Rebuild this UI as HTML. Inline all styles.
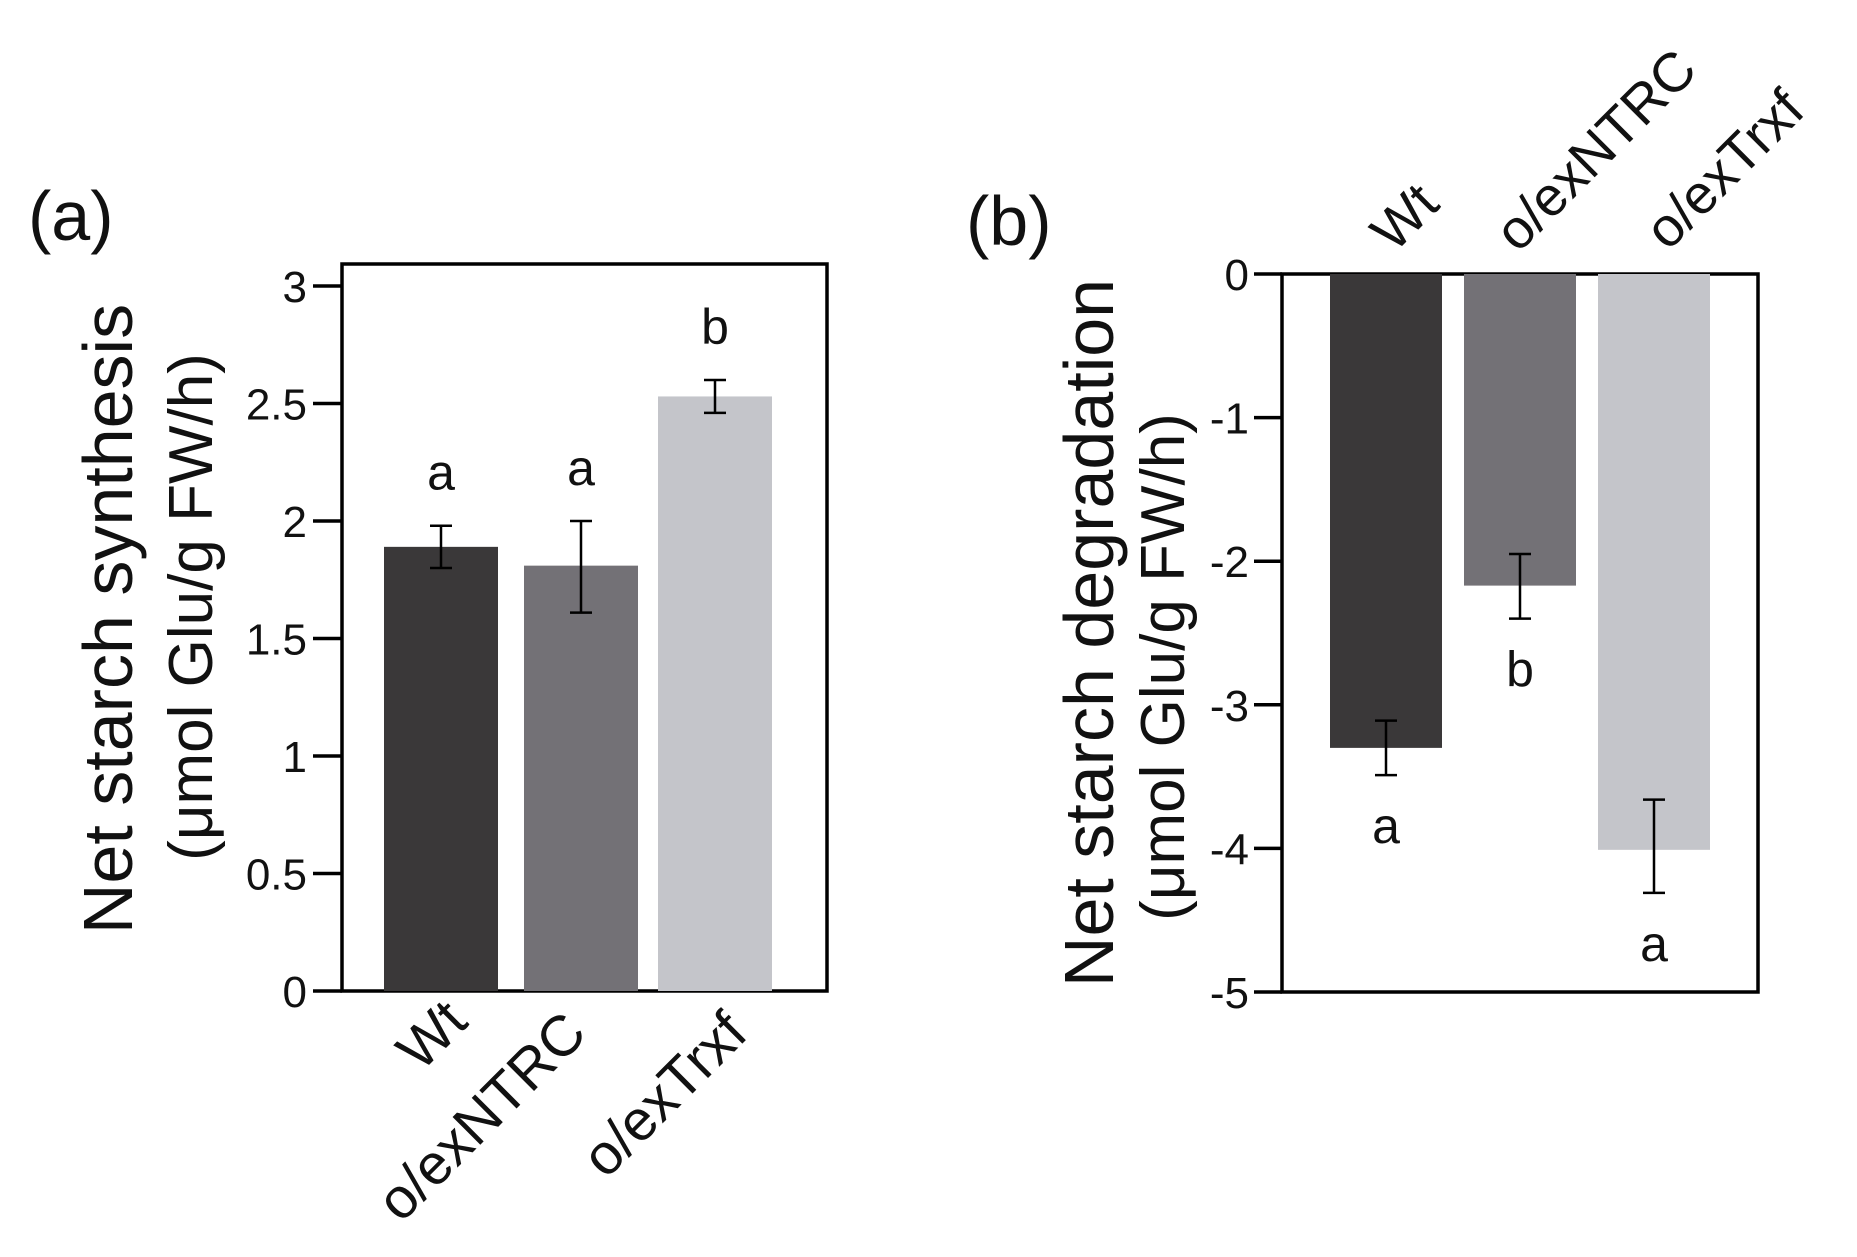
<!DOCTYPE html>
<html><head><meta charset="utf-8"><style>
html,body{margin:0;padding:0;background:#fff;width:1857px;height:1257px;overflow:hidden}
svg text{font-family:"Liberation Sans",Arial,sans-serif;fill:#111}
</style></head><body>
<svg id="fig" width="1857" height="1257" viewBox="0 0 1857 1257"></svg>
<script>
const categories=["Wt","o/exNTRC","o/exTrxf"];
const synthValues=[1.89,1.81,2.53];
const synthErrHi=[1.98,2.00,2.60];
const synthErrLo=[1.80,1.61,2.46];
const synthLetters=["a","a","b"];
const synthTicks=[0,0.5,1,1.5,2,2.5,3];
const degValues=[-3.30,-2.17,-4.01];
const degErrHi=[-3.11,-1.95,-3.66];
const degErrLo=[-3.49,-2.40,-4.31];
const degLetters=["a","b","a"];
const degTicks=[0,-1,-2,-3,-4,-5];
const colors=["#3a3839","#737176","#c4c5ca"];
const NS="http://www.w3.org/2000/svg";
const svg=document.getElementById('fig');
function mk(tag,attrs,parent){const e=document.createElementNS(NS,tag);for(const k in attrs)e.setAttribute(k,attrs[k]);(parent||svg).appendChild(e);return e;}
function txt(s,attrs){const t=mk('text',attrs);t.textContent=s;return t;}

// Panel a
{
const L=342,R=827,T=264,B=991,Y3=286;
const y=v=>B-(v/3)*(B-Y3);
const bx=[384,524,658],bw=114;
const r=mk('rect',{x:L,y:T,width:R-L,height:B-T,fill:'none',stroke:'#000','stroke-width':3.5});

synthTicks.forEach(v=>{
 const l=mk('line',{x1:313,x2:L,y1:y(v),y2:y(v),stroke:'#000','stroke-width':3.5});
 
 const t=txt(String(v),{x:307,y:y(v)+16,'text-anchor':'end','font-size':44});
 
});
categories.forEach((c,i)=>{
 const b=mk('rect',{x:bx[i],y:y(synthValues[i]),width:bw,height:B-y(synthValues[i]),fill:colors[i]});
 
 const cx=bx[i]+bw/2;
 const g=mk('g',{stroke:'#000','stroke-width':2.5});
 
 mk('line',{x1:cx,x2:cx,y1:y(synthErrHi[i]),y2:y(synthErrLo[i])},g);
 mk('line',{x1:cx-11,x2:cx+11,y1:y(synthErrHi[i]),y2:y(synthErrHi[i])},g);
 mk('line',{x1:cx-11,x2:cx+11,y1:y(synthErrLo[i]),y2:y(synthErrLo[i])},g);
 const lt=txt(synthLetters[i],{x:cx,y:y(synthErrHi[i])-36,'text-anchor':'middle','font-size':50});
 
 const ex=[470,589,750][i],ey=[1024,1036,1036][i];
 const xl=txt(c,{x:ex,y:ey,'text-anchor':'end','font-size':57,transform:`rotate(-45 ${ex} ${ey})`});
 
});
const t1=txt('Net starch synthesis',{x:0,y:0,'text-anchor':'middle','font-size':70,transform:'translate(132 619) rotate(-90)'});

const t2=txt('(μmol Glu/g FW/h)',{x:0,y:0,'text-anchor':'middle','font-size':62,transform:'translate(212 607) rotate(-90)'});

const pa=txt('(a)',{x:28,y:240,'font-size':70});

}

// Panel b
{
const L=1282,R=1758,T=274,B=992;
const y=v=>T+(-v/5)*(B-T);
const bx=[1330,1464,1598],bw=112;
const r=mk('rect',{x:L,y:T,width:R-L,height:B-T,fill:'none',stroke:'#000','stroke-width':3.5});

degTicks.forEach(v=>{
 const l=mk('line',{x1:1254,x2:L,y1:y(v),y2:y(v),stroke:'#000','stroke-width':3.5});
 
 const t=txt(String(v),{x:1249,y:y(v)+16,'text-anchor':'end','font-size':44});
 
});
categories.forEach((c,i)=>{
 const b=mk('rect',{x:bx[i],y:y(0),width:bw,height:y(degValues[i])-y(0),fill:colors[i]});
 
 const cx=bx[i]+bw/2;
 const g=mk('g',{stroke:'#000','stroke-width':2.5});
 
 mk('line',{x1:cx,x2:cx,y1:y(degErrHi[i]),y2:y(degErrLo[i])},g);
 mk('line',{x1:cx-11,x2:cx+11,y1:y(degErrHi[i]),y2:y(degErrHi[i])},g);
 mk('line',{x1:cx-11,x2:cx+11,y1:y(degErrLo[i]),y2:y(degErrLo[i])},g);
 const lt=txt(degLetters[i],{x:cx,y:y(degErrLo[i])+68,'text-anchor':'middle','font-size':50});
 
 const sx=[1394,1518,1668][i],sy=[254,254,252][i];
 const xl=txt(c,{x:sx,y:sy,'text-anchor':'start','font-size':55,transform:`rotate(-45 ${sx} ${sy})`});
 
});
const t1=txt('Net starch degradation',{x:0,y:0,'text-anchor':'middle','font-size':70,transform:'translate(1113 633) rotate(-90)'});

const t2=txt('(μmol Glu/g FW/h)',{x:0,y:0,'text-anchor':'middle','font-size':62,transform:'translate(1184 667) rotate(-90)'});

const pb=txt('(b)',{x:966,y:245,'font-size':70});

}
</script>
</body></html>
